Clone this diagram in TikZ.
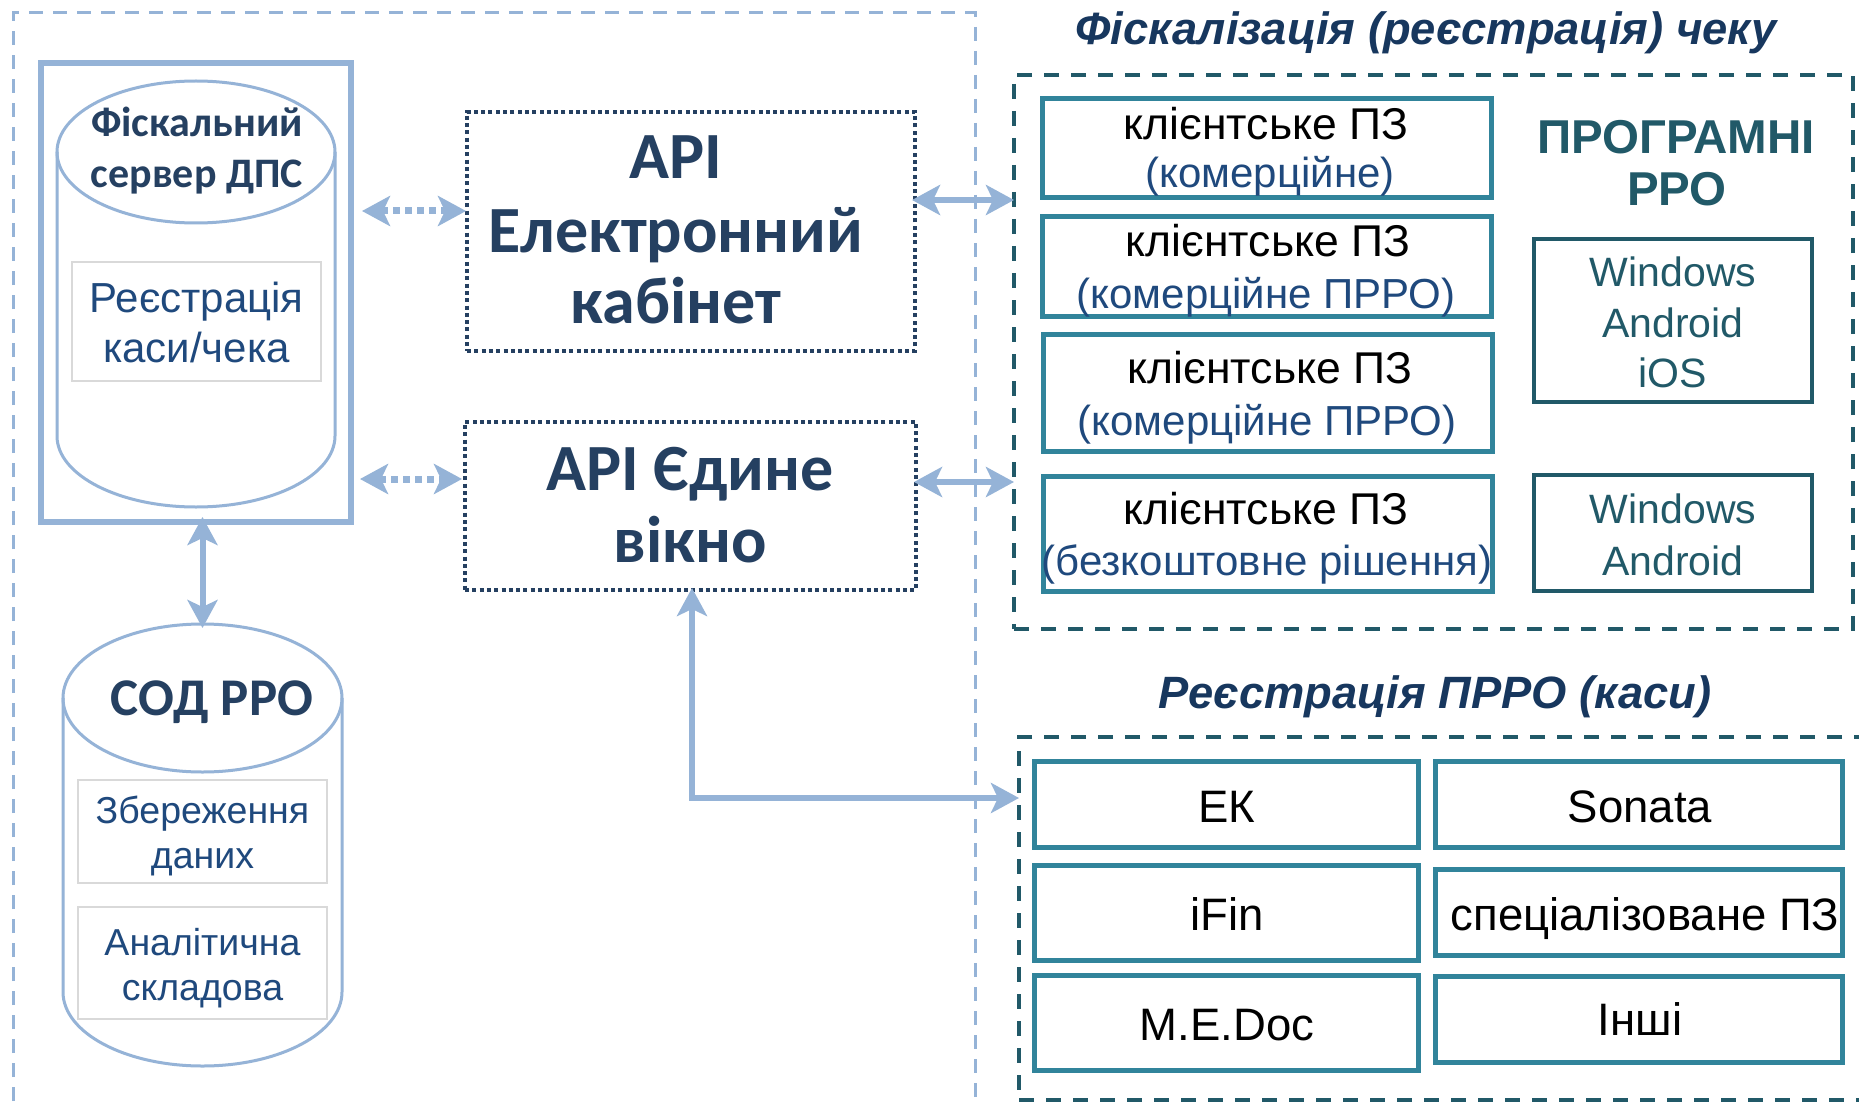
\documentclass[tikz,border=0pt]{standalone}
\usepackage{fontspec}
\setmainfont{Liberation Sans}
\newfontfamily\calfont{Carlito}
\usetikzlibrary{arrows.meta,shapes.geometric,calc}
\definecolor{lblue}{HTML}{95B3D7}
\definecolor{navytxt}{HTML}{254061}
\definecolor{ttlcol}{HTML}{17375E}
\definecolor{txtblue}{HTML}{1F497D}
\definecolor{boxteal}{HTML}{31849B}
\definecolor{darkteal}{HTML}{215968}
\definecolor{graybox}{HTML}{D9D9D9}
\tikzset{
  tx/.style={anchor=base, inner sep=0pt, outer sep=0pt},
  plainbox/.style={inner sep=0pt, outer sep=0pt, rectangle},
  bigframe/.style={plainbox, draw=lblue, line width=6pt},
  graybx/.style={plainbox, draw=graybox, line width=2pt},
  apibox/.style={plainbox, draw=navytxt, line width=3.5pt, dash pattern=on 4pt off 3.3pt},
  areabox/.style={plainbox, draw=darkteal, line width=4pt, dash pattern=on 15pt off 12pt},
  clientbox/.style={plainbox, draw=boxteal, line width=5pt},
  osbox/.style={plainbox, draw=darkteal, line width=3.5pt},
  cyltop/.style={ellipse, draw=lblue, line width=3pt, inner sep=0pt, outer sep=0pt},
  cylline/.style={draw=lblue, line width=3pt},
  tip/.tip={Stealth[length=28pt,width=30pt,inset=7pt]},
  dotarr/.style={draw=lblue, line width=7pt, dash pattern=on 7pt off 5pt, tip-tip},
  solarr/.style={draw=lblue, line width=6pt, tip-tip},
  fcyl/.style={tx, font=\calfont\bfseries\fontsize{42}{42}\selectfont, text=navytxt},
  fapi/.style={tx, font=\calfont\bfseries\fontsize{66}{66}\selectfont, text=navytxt},
  fsod/.style={tx, font=\calfont\bfseries\fontsize{53}{53}\selectfont, text=navytxt},
  fgray/.style={tx, font=\fontsize{42}{42}\selectfont, text=txtblue},
  fgraysm/.style={tx, font=\fontsize{37.5}{37.5}\selectfont, text=txtblue},
  fcli/.style={tx, font=\fontsize{44.5}{44.5}\selectfont, text=black},
  fclib/.style={tx, font=\fontsize{42}{42}\selectfont, text=txtblue},
  fprog/.style={tx, font=\bfseries\fontsize{47.5}{47.5}\selectfont, text=darkteal},
  fwin/.style={tx, font=\fontsize{41}{41}\selectfont, text=darkteal},
  fgrid/.style={tx, font=\fontsize{45.5}{45.5}\selectfont, text=black},
  ftitle/.style={tx, font=\bfseries\itshape\fontsize{45.3}{45.3}\selectfont, text=ttlcol},
}
\begin{document}
\begin{tikzpicture}[x=1pt,y=-1pt]
\useasboundingbox (0,0) rectangle (1859,1107);
\fill[white] (0,0) rectangle (1859,1107);

% outer light-blue dashed region
\draw[lblue, line width=3pt, dash pattern=on 14pt off 10pt] (13,1125) -- (13,13) -- (975,13) -- (975,1125);

% ---------- fiscal server ----------
\node[bigframe, minimum width=310pt, minimum height=459pt] (fsbox) at (196,292.5) {};
\draw[cylline] (57,152) -- (57,436) .. controls (57,475.2) and (119.2,507) .. (196,507)
  .. controls (272.8,507) and (335,475.2) .. (335,436) -- (335,152);
\node[cyltop, minimum width=278pt, minimum height=142pt] (fstop) at (196,152) {};
\node[fcyl] (fsa) at (197,137) {Фіскальний};
\node[fcyl] (fsb) at (197,188) {сервер ДПС};
\node[graybx, minimum width=249pt, minimum height=119pt] (g1) at (196.5,321.5) {};
\node[fgray] (g1a) at (196.5,312) {Реєстрація};
\node[fgray] (g1b) at (196.5,362) {каси/чека};

% ---------- SOD RRO ----------
\draw[cylline] (63,698) -- (63,992) .. controls (63,1032.9) and (125.5,1066) .. (202.5,1066)
  .. controls (279.5,1066) and (342,1032.9) .. (342,992) -- (342,698);
\node[cyltop, minimum width=279pt, minimum height=148pt] (sodtop) at (202.5,698) {};
\node[fsod] (soda) at (212,715) {СОД РРО};
\node[graybx, minimum width=249pt, minimum height=103pt] (g2) at (202.5,831.5) {};
\node[fgraysm] (g2a) at (202.5,823) {Збереження};
\node[fgraysm] (g2b) at (202.5,868) {даних};
\node[graybx, minimum width=249pt, minimum height=112pt] (g3) at (202.5,963) {};
\node[fgraysm] (g3a) at (202.5,955) {Аналітична};
\node[fgraysm] (g3b) at (202.5,1000) {складова};

% ---------- API boxes ----------
\node[apibox, minimum width=448pt, minimum height=239pt] (a1) at (691,231.5) {};
\node[fapi] (a1a) at (676,179) {API};
\node[fapi] (a1b) at (676,252) {Електронний};
\node[fapi] (a1c) at (676,323) {кабінет};
\node[apibox, minimum width=451pt, minimum height=168pt] (a2) at (690.5,506) {};
\node[fapi] (a2a) at (690,490) {API Єдине};
\node[fapi] (a2b) at (690,562) {вікно};

% ---------- fiscalisation area ----------
\node[ftitle] (t1) at (1426,45) {Фіскалізація (реєстрація) чеку};
\node[areabox, minimum width=839pt, minimum height=554pt] (fisc) at (1433.5,352) {};
\node[clientbox, minimum width=449pt, minimum height=99pt] (c1) at (1266.5,148.5) {};
\node[fcli] (c1a) at (1266,140) {клієнтське ПЗ};
\node[fclib] (c1b) at (1270,188) {(комерційне)};
\node[clientbox, minimum width=449pt, minimum height=99pt] (c2) at (1266.5,266.5) {};
\node[fcli] (c2a) at (1268,257) {клієнтське ПЗ};
\node[fclib] (c2b) at (1266,308) {(комерційне ПРРО)};
\node[clientbox, minimum width=449pt, minimum height=117pt] (c3) at (1267.5,392.5) {};
\node[fcli] (c3a) at (1270,383) {клієнтське ПЗ};
\node[fclib] (c3b) at (1267,435) {(комерційне ПРРО)};
\node[clientbox, minimum width=449pt, minimum height=115pt] (c4) at (1267.5,533.5) {};
\node[fcli] (c4a) at (1266,524) {клієнтське ПЗ};
\node[fclib] (c4b) at (1267,575) {(безкоштовне рішення)};
\node[fprog] (pa) at (1676,154) {ПРОГРАМНІ};
\node[fprog] (pb) at (1677,206) {РРО};
\node[osbox, minimum width=278pt, minimum height=163pt] (w1) at (1673,320.5) {};
\node[fwin] (w1a) at (1673,286) {Windows};
\node[fwin] (w1b) at (1673,337) {Android};
\node[fwin] (w1c) at (1673,387) {iOS};
\node[osbox, minimum width=278pt, minimum height=116pt] (w2) at (1673,533) {};
\node[fwin] (w2a) at (1673,523) {Windows};
\node[fwin] (w2b) at (1673,575) {Android};

% ---------- registration area ----------
\node[ftitle] (t2) at (1435,708) {Реєстрація ПРРО (каси)};
\node[areabox, minimum width=851pt, minimum height=363pt] (reg) at (1444.5,918.5) {};
\node[clientbox, minimum width=384pt, minimum height=86pt] (r1l) at (1226.5,804.5) {};
\node[clientbox, minimum width=407pt, minimum height=86pt] (r1r) at (1639,804.5) {};
\node[clientbox, minimum width=384pt, minimum height=95pt] (r2l) at (1226.5,913) {};
\node[clientbox, minimum width=407pt, minimum height=86pt] (r2r) at (1639,912.5) {};
\node[clientbox, minimum width=384pt, minimum height=95pt] (r3l) at (1226.5,1023) {};
\node[clientbox, minimum width=407pt, minimum height=86pt] (r3r) at (1639,1019.5) {};
\node[fgrid] (r1la) at (1227,822) {ЕК};
\node[fgrid] (r1ra) at (1640,822) {Sonata};
\node[fgrid] (r2la) at (1227,930) {iFin};
\node[fgrid] (r2ra) at (1645,930) {спеціалізоване ПЗ};
\node[fgrid] (r3la) at (1227,1040) {M.E.Doc};
\node[fgrid] (r3ra) at (1640,1035) {Інші};

% ---------- connectors ----------
\coordinate (ya) at (0,211);
\coordinate (yb) at (0,479);
\coordinate (yc) at (0,200);
\coordinate (yd) at (0,482);
\coordinate (ye) at (0,798);
\coordinate (xe) at (692,0);
\draw[dotarr, shorten <=11pt, shorten >=1pt] (fsbox.east |- ya) -- (a1.west |- ya);
\draw[dotarr, shorten <=9pt, shorten >=3pt] (fsbox.east |- yb) -- (a2.west |- yb);
\draw[solarr, shorten <=-3pt] (a1.east |- yc) -- (fisc.west |- yc);
\draw[solarr, shorten <=-2pt] (a2.east |- yd) -- (fisc.west |- yd);
\draw[solarr, shorten <=-5pt, shorten >=-4pt] (fsbox.south -| sodtop.north) -- (sodtop.north);
\draw[solarr, shorten <=-2pt] (a2.south -| xe) |- (reg.west |- ye);
\end{tikzpicture}
\end{document}
